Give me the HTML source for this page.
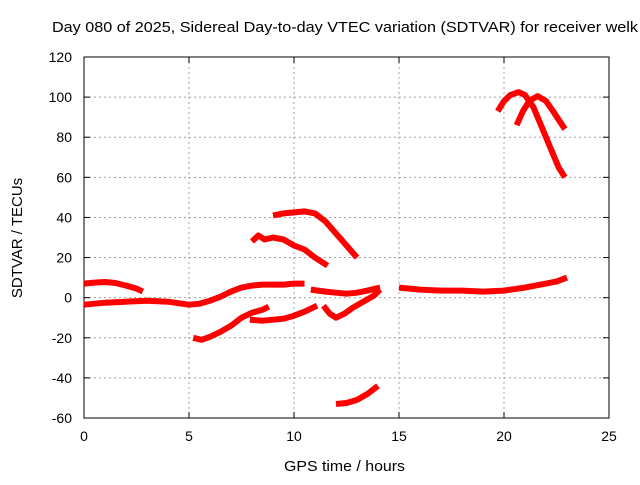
<!DOCTYPE html>
<html><head><meta charset="utf-8"><style>
body{margin:0;background:#fff;}
text{font-family:"Liberation Sans",sans-serif;font-size:14px;fill:#000;}
</style></head><body>
<svg id="chart" width="640" height="480" xmlns="http://www.w3.org/2000/svg">
<rect width="640" height="480" fill="#fff"/>
<text x="52" y="32" textLength="586" lengthAdjust="spacingAndGlyphs" style="font-size:15px">Day 080 of 2025, Sidereal Day-to-day VTEC variation (SDTVAR) for receiver welk</text>
<g id="grid"></g>
<g id="axes"></g>
<g id="series"></g>
<text x="284" y="471" textLength="121" lengthAdjust="spacingAndGlyphs" style="font-size:15px">GPS time / hours</text>
<text transform="translate(22,238) rotate(-90)" text-anchor="middle" style="font-size:15px">SDTVAR / TECUs</text>
</svg>
<script>
const xTicks=[0,5,10,15,20,25];
const yTicks=[-60,-40,-20,0,20,40,60,80,100,120];
const track1T=[0,0.5,1,1.5,2,2.5,2.8];
const track1V=[7,7.5,7.8,7.3,6,4.5,3];
const track2T=[0,1,2,3,4,5,5.5,6,6.5,7,7.5,8,8.5,9,9.5,10,10.5];
const track2V=[-3.5,-2.5,-2,-1.5,-2,-3.5,-3,-1.5,0.5,3,5,6,6.5,6.5,6.5,7,7];
const track3T=[5.2,5.6,6,6.5,7,7.5,8,8.5,8.8];
const track3V=[-20,-21,-19.5,-17,-14,-10,-7.5,-6,-4.5];
const track4T=[7.9,8.5,9,9.5,10,10.5,11.1];
const track4V=[-11,-11.5,-11,-10.5,-9,-7,-4];
const track5T=[8,8.3,8.6,9,9.5,10,10.5,11,11.6];
const track5V=[28,31,29,30,29,26,24,20,16];
const track6T=[9,9.5,10,10.5,11,11.5,12,12.5,13];
const track6V=[41,42,42.5,43,42,38,32,26,20];
const track7T=[10.8,11.5,12,12.5,13,13.5,14.1];
const track7V=[4,3,2.5,2,2.5,3.5,5];
const track8T=[11.4,11.7,12,12.4,12.8,13.3,13.8,14.1];
const track8V=[-4,-8,-10,-8,-5,-2,1,4];
const track9T=[12,12.5,13,13.5,14];
const track9V=[-53,-52.5,-51,-48,-44];
const track10T=[15,16,17,18,19,20,21,21.5,22,22.5,23];
const track10V=[5,4,3.5,3.5,3,3.5,5,6,7,8,10];
const track11T=[19.7,20,20.3,20.7,21,21.4,21.8,22.2,22.6,22.9];
const track11V=[93,98,101,102.5,101,95,85,75,65,60];
const track12T=[20.6,20.9,21.2,21.6,22,22.4,22.9];
const track12V=[86,93,98,100.5,98,92,84];
const seriesT=[track1T,track2T,track3T,track4T,track5T,track6T,track7T,track8T,track9T,track10T,track11T,track12T];
const seriesV=[track1V,track2V,track3V,track4V,track5V,track6V,track7V,track8V,track9V,track10V,track11V,track12V];

const X0=84,X1=609,Y0=418,Y1=57;
function xs(t){return X0+(t-0)/(25-0)*(X1-X0);}
function ys(v){return Y0-(v+60)/(180)*(Y0-Y1);}
const NS="http://www.w3.org/2000/svg";
const grid=document.getElementById('grid'),axes=document.getElementById('axes'),ser=document.getElementById('series');
function mk(tag,attrs,parent){const e=document.createElementNS(NS,tag);for(const k in attrs)e.setAttribute(k,attrs[k]);parent.appendChild(e);return e;}
xTicks.forEach(t=>{
  const x=xs(t);
  if(t>0&&t<25){const l=mk('line',{x1:x,x2:x,y1:Y1,y2:Y0,stroke:'#a0a0a0','stroke-dasharray':'2,3'},grid);
  
  }
  const tk=mk('line',{x1:x,x2:x,y1:Y0,y2:Y0-6,stroke:'#000'},axes);
  
  
  const tk2=mk('line',{x1:x,x2:x,y1:Y1,y2:Y1+6,stroke:'#000'},axes);
  
  
  const tx=mk('text',{x:x,y:Y0+23,'text-anchor':'middle'},axes);tx.textContent=t;
  
  
});
yTicks.forEach(v=>{
  const y=ys(v);
  if(v>-60&&v<120){const l=mk('line',{x1:X0,x2:X1,y1:y,y2:y,stroke:'#a0a0a0','stroke-dasharray':'2,3'},grid);
  
  }
  const tk=mk('line',{x1:X0,x2:X0+6,y1:y,y2:y,stroke:'#000'},axes);
  
  
  const tk2=mk('line',{x1:X1,x2:X1-6,y1:y,y2:y,stroke:'#000'},axes);
  
  
  const tx=mk('text',{x:X0-12,y:y+5,'text-anchor':'end'},axes);tx.textContent=v;
  
  
});
const fr=mk('rect',{x:X0,y:Y1,width:X1-X0,height:Y0-Y1,fill:'none',stroke:'#000'},axes);


seriesT.forEach((ts,i)=>{
  const vs=seriesV[i];
  const pts=ts.map((t,j)=>xs(t).toFixed(1)+','+ys(vs[j]).toFixed(1)).join(' ');
  const p=mk('polyline',{points:pts,fill:'none',stroke:'#ff0000','stroke-width':6,'stroke-linejoin':'round'},ser);
  
  
});
</script>
</body></html>
